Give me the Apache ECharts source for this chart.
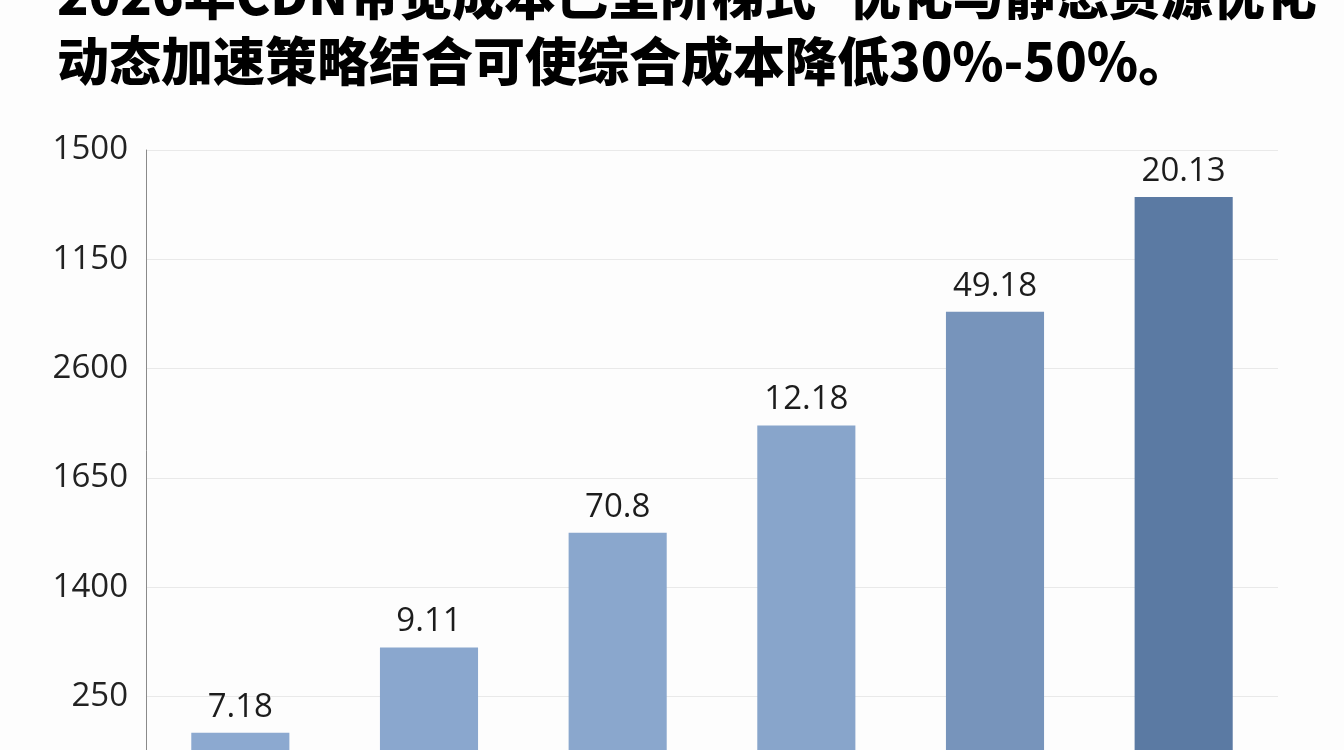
<!DOCTYPE html>
<html>
<head>
<meta charset="utf-8">
<script src="https://cdn.jsdelivr.net/npm/echarts@6/dist/echarts.min.js"></script>
<style>
  html, body { margin: 0; padding: 0; background: #fdfdfd; }
  #chart { width: 1344px; height: 750px; }
</style>
</head>
<body>
<div id="chart"></div>
<script>
// categories (their axis labels sit below the visible area)
var categories = ['一', '二', '三', '四', '五', '六'];
// bar heights in grid steps
var barHeights = [0.67, 1.45, 2.50, 3.48, 4.52, 5.57];
// the text printed above each bar
var barLabels = ['7.18', '9.11', '70.8', '12.18', '49.18', '20.13'];
// y tick labels, bottom to top, at grid steps 1..6
var yTickLabels = ['250', '1400', '1650', '2600', '1150', '1500'];
var barColors = ['#8ca9d0', '#8aa7ce', '#8aa7cd', '#88a5cb', '#7794bb', '#5b7aa3'];

var myChart = echarts.init(document.getElementById('chart'));

var seriesData = [];
for (var i = 0; i < barHeights.length; i++) {
    seriesData.push({
        value: barHeights[i],
        itemStyle: { color: barColors[i] }
    });
}

myChart.setOption({
    backgroundColor: '#fdfdfd',
    animation: false,
    title: {
        text: '2026年CDN带宽成本已呈阶梯式"优化与静态资源优化\n动态加速策略结合可使综合成本降低30%-50%。',
        left: 52,
        top: -43,
        textStyle: {
            fontFamily: 'Noto Sans CJK SC',
            fontSize: 52,
            fontWeight: 900,
            lineHeight: 66,
            color: '#000'
        }
    },
    // the plot runs past the bottom edge of the picture
    grid: {
        left: 146,
        right: 66,
        top: 150,
        bottom: -56,
        containLabel: false,
        outerBoundsMode: 'none'
    },
    xAxis: {
        type: 'category',
        data: categories,
        axisLine: { show: false },
        axisTick: { show: false },
        axisLabel: { show: false }
    },
    yAxis: {
        type: 'value',
        min: 0,
        max: 6,
        interval: 1,
        axisLine: { show: true, lineStyle: { color: '#8a8a8a', width: 1 } },
        axisTick: { show: false },
        splitLine: { lineStyle: { color: '#e9e9e9', width: 1 } },
        axisLabel: {
            margin: 18,
            fontFamily: 'Open Sans',
            fontSize: 33,
            color: '#222',
            formatter: function (v) {
                return yTickLabels[v - 1] || '';
            }
        }
    },
    series: [
        {
            type: 'bar',
            barWidth: '52%',
            data: seriesData,
            label: {
                show: true,
                position: 'top',
                distance: 9,
                fontFamily: 'Open Sans',
                fontSize: 33,
                color: '#1c1c1c',
                formatter: function (p) {
                    return barLabels[p.dataIndex];
                }
            }
        }
    ]
});
</script>
</body>
</html>
